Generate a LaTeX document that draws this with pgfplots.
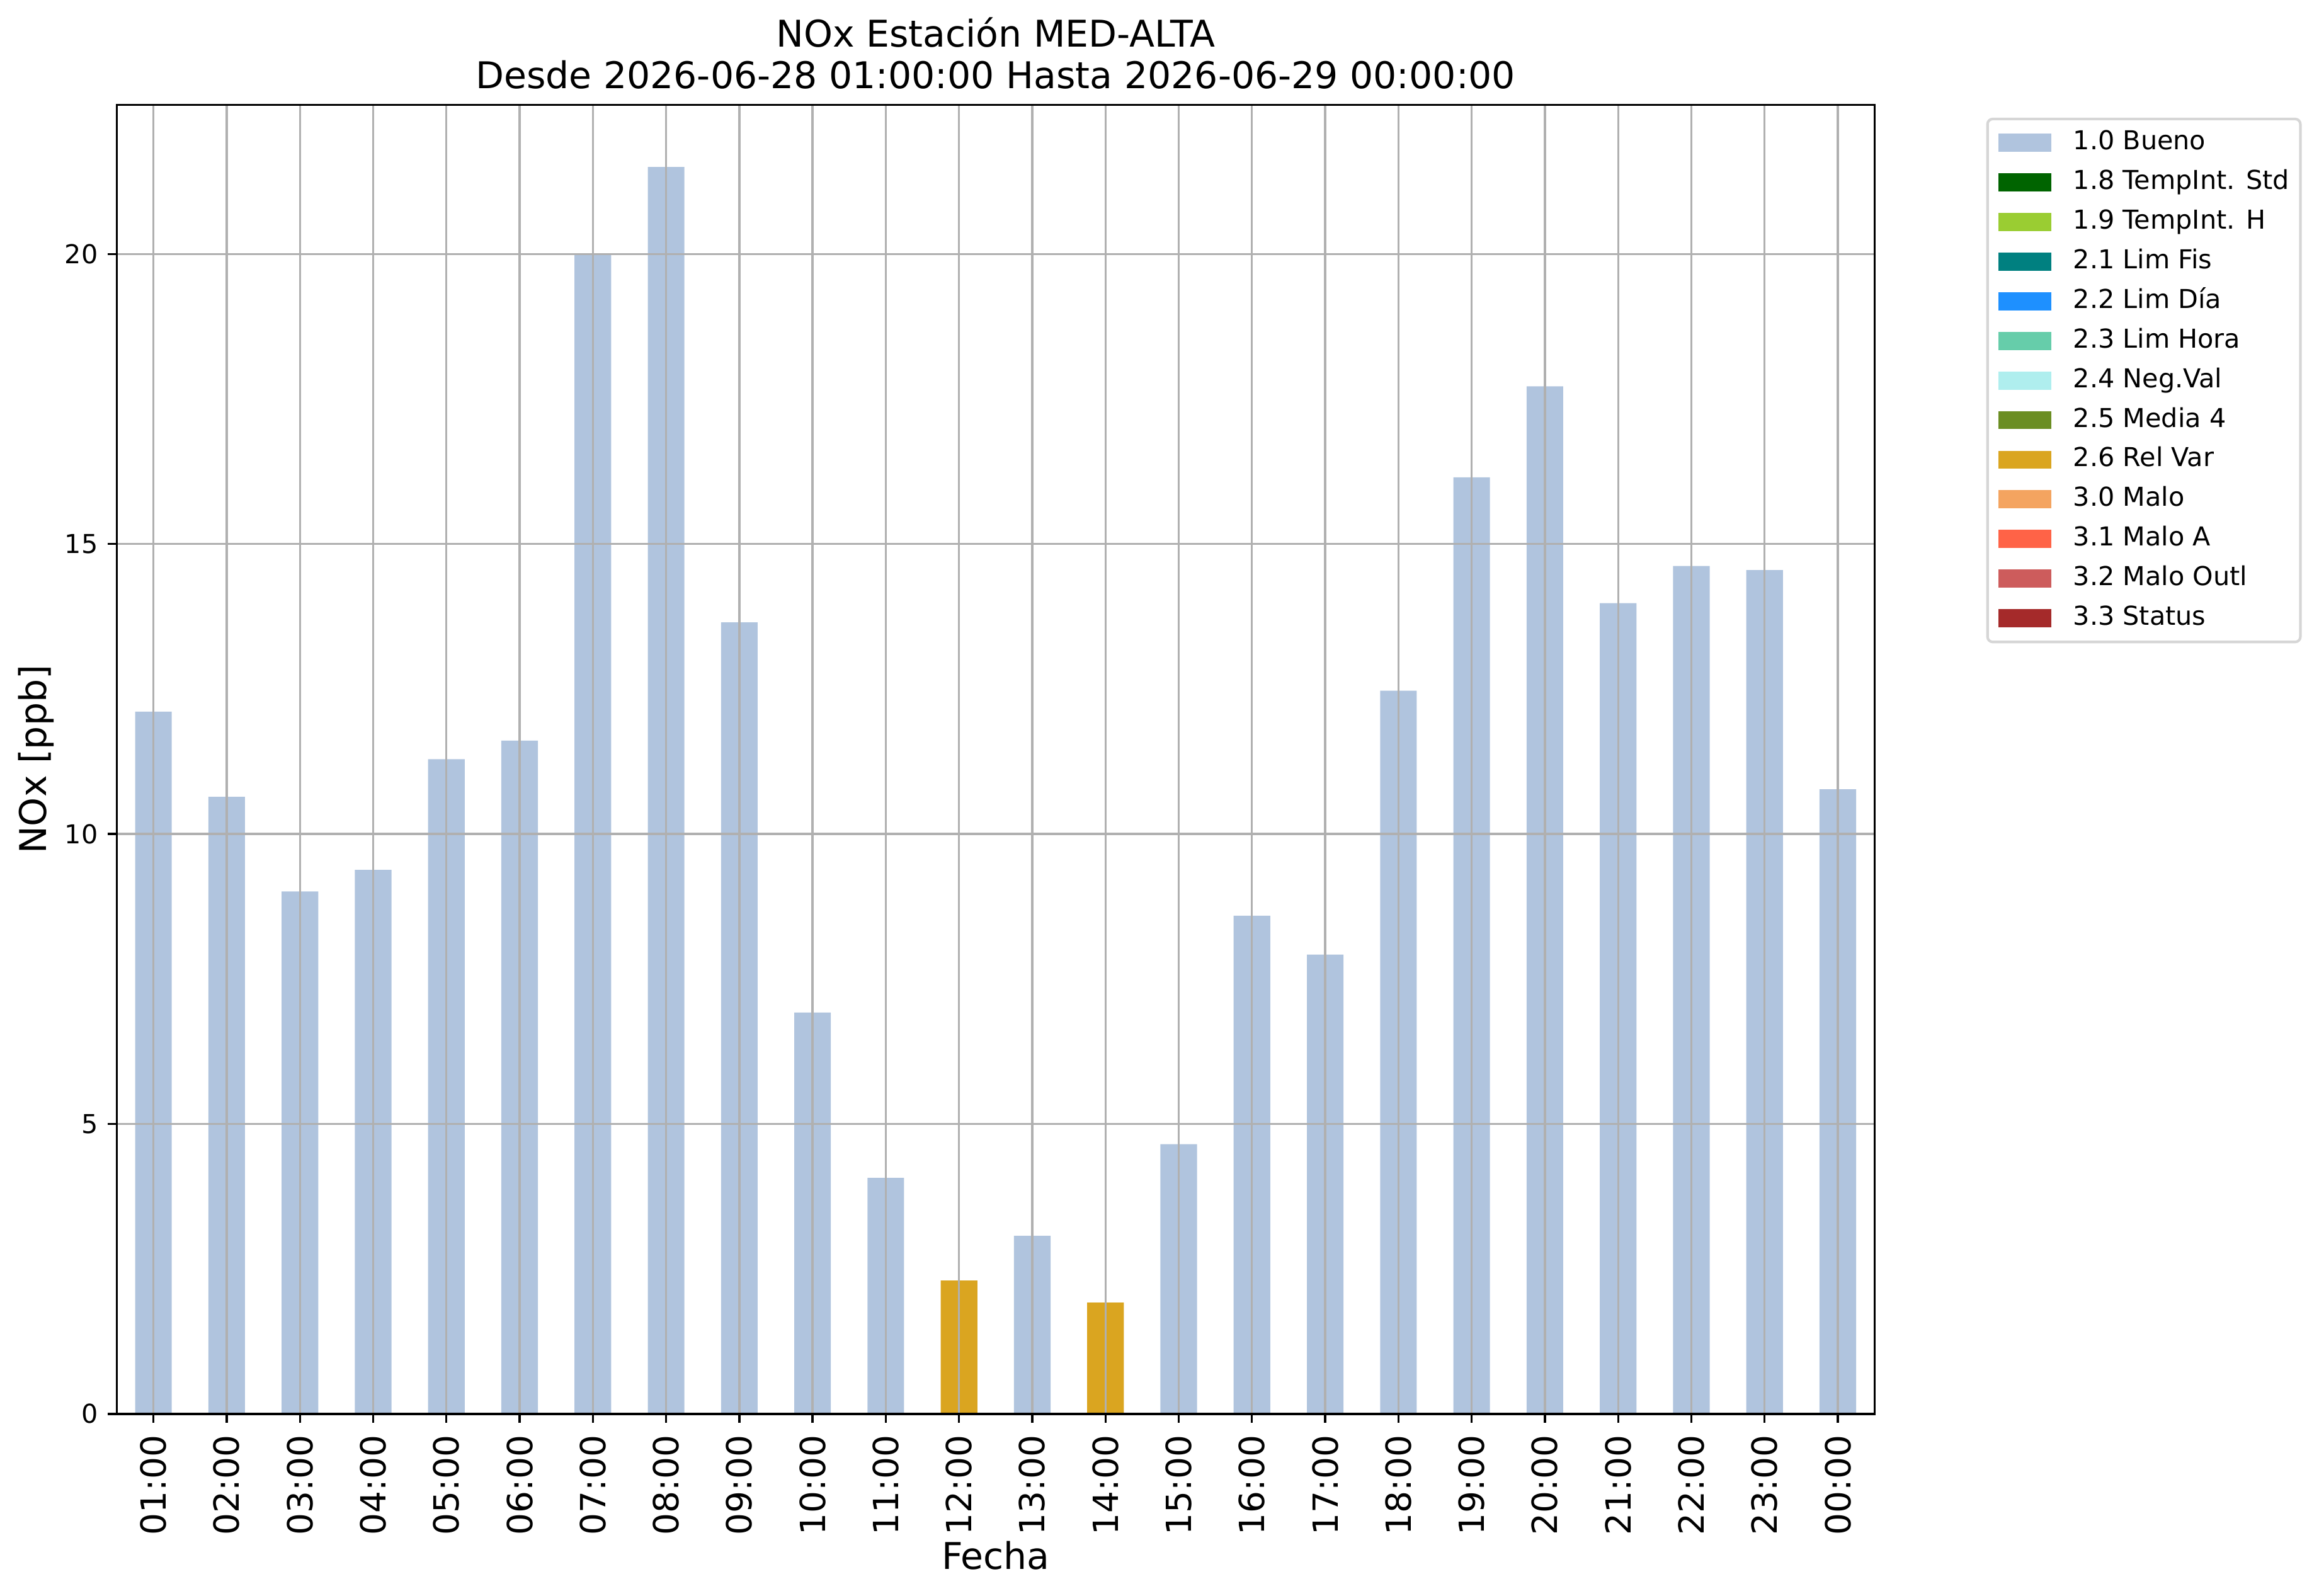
\documentclass[border=0pt]{standalone}
\usepackage{fontspec}
\setmainfont{DejaVu Sans}
\usepackage{pgfplots}
\pgfplotsset{compat=1.18}
\definecolor{lsb}{HTML}{B0C4DE}
\definecolor{dgreen}{HTML}{006400}
\definecolor{ygreen}{HTML}{9ACD32}
\definecolor{tealc}{HTML}{008080}
\definecolor{dodger}{HTML}{1E90FF}
\definecolor{maqua}{HTML}{66CDAA}
\definecolor{pturq}{HTML}{AFEEEE}
\definecolor{olived}{HTML}{6B8E23}
\definecolor{golden}{HTML}{DAA520}
\definecolor{sandy}{HTML}{F4A460}
\definecolor{tomatoc}{HTML}{FF6347}
\definecolor{indred}{HTML}{CD5C5C}
\definecolor{brownc}{HTML}{A52A2A}
\definecolor{gridgray}{HTML}{B0B0B0}
\definecolor{legframe}{HTML}{D6D6D6}
\pgfplotsset{leg/.style={legend image code/.code={\fill[##1,draw=none,sharp corners] (0pt,-3.075pt) rectangle (17.75pt,3.075pt);}}}
\begin{document}
\begin{tikzpicture}
\path[use as bounding box] (-39.5pt,-61.55pt) rectangle (744.5pt,478pt);
\begin{axis}[
  name=ax,
  at={(0pt,0pt)}, anchor=south west,
  scale only axis, width=594.2pt, height=442.5pt,
  xmin=-0.5, xmax=23.5, ymin=0, ymax=22.57,
  xtick={0,1,...,23},
  xticklabels={01:00,02:00,03:00,04:00,05:00,06:00,07:00,08:00,09:00,10:00,11:00,12:00,13:00,14:00,15:00,16:00,17:00,18:00,19:00,20:00,21:00,22:00,23:00,00:00},
  ytick={0,5,10,15,20},
  grid=major,
  grid style={color=gridgray, line width=0.7pt},
  axis on top,
  axis line style={line width=0.7pt, black},
  tick align=outside, tick pos=left,
  major tick length=3.1pt,
  every tick/.style={black, line width=0.7pt},
  xticklabel style={rotate=90, anchor=east, font=\fontsize{11.7}{14}\selectfont, inner sep=0pt},
  yticklabel style={anchor=east, font=\fontsize{8.8}{10}\selectfont, inner sep=0pt},
  xticklabel shift=3.9pt, yticklabel shift=3.1pt,
  /pgf/number format/assume math mode=true,
  leg,
  legend cell align=left,
  legend style={at={(1.0636,0.9903)}, anchor=north west, draw=legframe, line width=0.88pt, rounded corners=1.75pt,
    font=\fontsize{8.8}{10}\selectfont, inner xsep=3.75pt, inner ysep=3.75pt, row sep=4.9pt,
    nodes={inner sep=0pt, text height=6.6pt, text depth=1.9pt},
    /tikz/every odd column/.append style={column sep=7.5pt}},
]
\addplot[ybar, bar width=0.5, bar shift=0pt, fill=lsb, draw=none] coordinates {
(0,12.11) (1,10.64) (2,9.01) (3,9.38) (4,11.29) (5,11.61) (6,19.99) (7,21.50)
(8,13.65) (9,6.92) (10,4.07) (12,3.07) (14,4.65) (15,8.59)
(16,7.92) (17,12.47) (18,16.15) (19,17.72) (20,13.98) (21,14.62) (22,14.55) (23,10.77)};
\addlegendentry{1.0 Bueno}
\addlegendimage{leg, fill=dgreen}\addlegendentry{1.8 TempInt. Std}
\addlegendimage{leg, fill=ygreen}\addlegendentry{1.9 TempInt. H}
\addlegendimage{leg, fill=tealc}\addlegendentry{2.1 Lim Fis}
\addlegendimage{leg, fill=dodger}\addlegendentry{2.2 Lim Día}
\addlegendimage{leg, fill=maqua}\addlegendentry{2.3 Lim Hora}
\addlegendimage{leg, fill=pturq}\addlegendentry{2.4 Neg.Val}
\addlegendimage{leg, fill=olived}\addlegendentry{2.5 Media 4}
\addplot[ybar, bar width=0.5, bar shift=0pt, fill=golden, draw=none] coordinates {
(11,2.30) (13,1.92)};
\addlegendentry{2.6 Rel Var}
\addlegendimage{leg, fill=sandy}\addlegendentry{3.0 Malo}
\addlegendimage{leg, fill=tomatoc}\addlegendentry{3.1 Malo A}
\addlegendimage{leg, fill=indred}\addlegendentry{3.2 Malo Outl}
\addlegendimage{leg, fill=brownc}\addlegendentry{3.3 Status}
\end{axis}
\node[anchor=base, font=\fontsize{12.45}{14}\selectfont, inner sep=0pt] at ([yshift=19.55pt]ax.north) {NOx Estación MED-ALTA};
\node[anchor=base, font=\fontsize{12.45}{14}\selectfont, inner sep=0pt] at ([yshift=5.55pt]ax.north) {Desde 2026-06-28 01:00:00 Hasta 2026-06-29 00:00:00};
\node[anchor=base, font=\fontsize{12.45}{14}\selectfont, inner sep=0pt] at ([yshift=-52.5pt]ax.south) {Fecha};
\node[rotate=90, anchor=base, font=\fontsize{12.45}{14}\selectfont, inner sep=0pt] at ([xshift=-23.75pt]ax.west) {NOx [ppb]};
\end{tikzpicture}
\end{document}
